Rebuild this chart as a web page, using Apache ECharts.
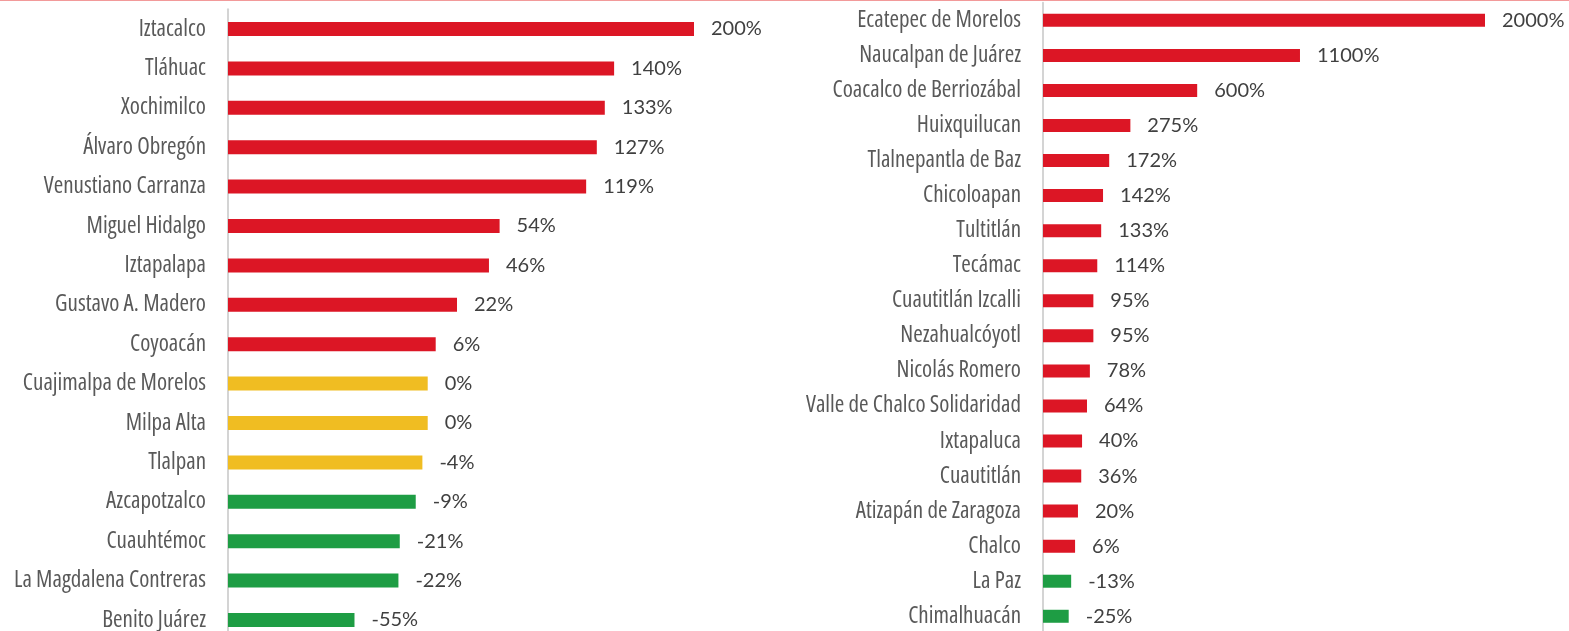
<!DOCTYPE html>
<html>
<head>
<meta charset="utf-8">
<script src="https://cdn.jsdelivr.net/npm/echarts@6/dist/echarts.min.js"></script>
<style>
  html, body { margin: 0; padding: 0; background: #fff; }
  #chart { width: 1569px; height: 631px; }
</style>
</head>
<body>
<div id="chart"></div>
<script>
// CDMX alcaldías
const leftNames = ['Iztacalco', 'Tláhuac', 'Xochimilco', 'Álvaro Obregón', 'Venustiano Carranza',
  'Miguel Hidalgo', 'Iztapalapa', 'Gustavo A. Madero', 'Coyoacán', 'Cuajimalpa de Morelos',
  'Milpa Alta', 'Tlalpan', 'Azcapotzalco', 'Cuauhtémoc', 'La Magdalena Contreras', 'Benito Juárez']
const leftValues = [200, 140, 133, 127, 119, 54, 46, 22, 6, 0, 0, -4, -9, -21, -22, -55]

// Estado de México municipios
const rightNames = ['Ecatepec de Morelos', 'Naucalpan de Juárez', 'Coacalco de Berriozábal', 'Huixquilucan',
  'Tlalnepantla de Baz', 'Chicoloapan', 'Tultitlán', 'Tecámac', 'Cuautitlán Izcalli', 'Nezahualcóyotl',
  'Nicolás Romero', 'Valle de Chalco Solidaridad', 'Ixtapaluca', 'Cuautitlán', 'Atizapán de Zaragoza',
  'Chalco', 'La Paz', 'Chimalhuacán']
const rightValues = [2000, 1100, 600, 275, 172, 142, 133, 114, 95, 95, 78, 64, 40, 36, 20, 6, -13, -25]

// las barras arrancan en -150% (base del eje)
const BASE = 150
const RED = '#DC1625'
const YELLOW = '#F0BD22'
const GREEN = '#1E9D44'

const colorOf = v => v > 0 ? RED : (v > -5 ? YELLOW : GREEN)

const makeSeries = (values, idx, barWidth) => ({
  type: 'bar',
  xAxisIndex: idx,
  yAxisIndex: idx,
  barWidth: barWidth,
  data: values.map(v => ({ value: v + BASE, raw: v, itemStyle: { color: colorOf(v) } })),
  label: {
    show: true,
    position: 'right',
    distance: 17,
    color: '#404040',
    fontSize: 20,
    fontFamily: 'Lato',
    formatter: p => p.data.raw + '%'
  },
  silent: true
})

const makeYAxis = (names, idx) => ({
  type: 'category',
  gridIndex: idx,
  data: names,
  inverse: true,
  axisTick: { show: false },
  axisLine: { show: true, lineStyle: { color: '#d4d4d4', width: 2 } },
  axisLabel: {
    color: '#595959',
    fontSize: 23,
    fontWeight: 'condensed', // fuente angosta
    fontFamily: 'Open Sans',
    margin: 22
  }
})

const chart = echarts.init(document.getElementById('chart'))
chart.setOption({
  animation: false,
  graphic: [{
    type: 'rect',
    shape: { x: 0, y: 0, width: 1569, height: 1 },
    style: { fill: '#F29A9A' }
  }],
  grid: [
    { left: 228, width: 466, top: 9.3, height: 630.4, outerBoundsMode: 'none' },
    { left: 1043, width: 442, top: 2.8, height: 631, outerBoundsMode: 'none' }
  ],
  xAxis: [
    { type: 'value', gridIndex: 0, min: 0, max: 200 + BASE, show: false },
    { type: 'value', gridIndex: 1, min: 0, max: 2000 + BASE, show: false }
  ],
  yAxis: [makeYAxis(leftNames, 0), makeYAxis(rightNames, 1)],
  series: [makeSeries(leftValues, 0, 14), makeSeries(rightValues, 1, 13)]
})
</script>
</body>
</html>
